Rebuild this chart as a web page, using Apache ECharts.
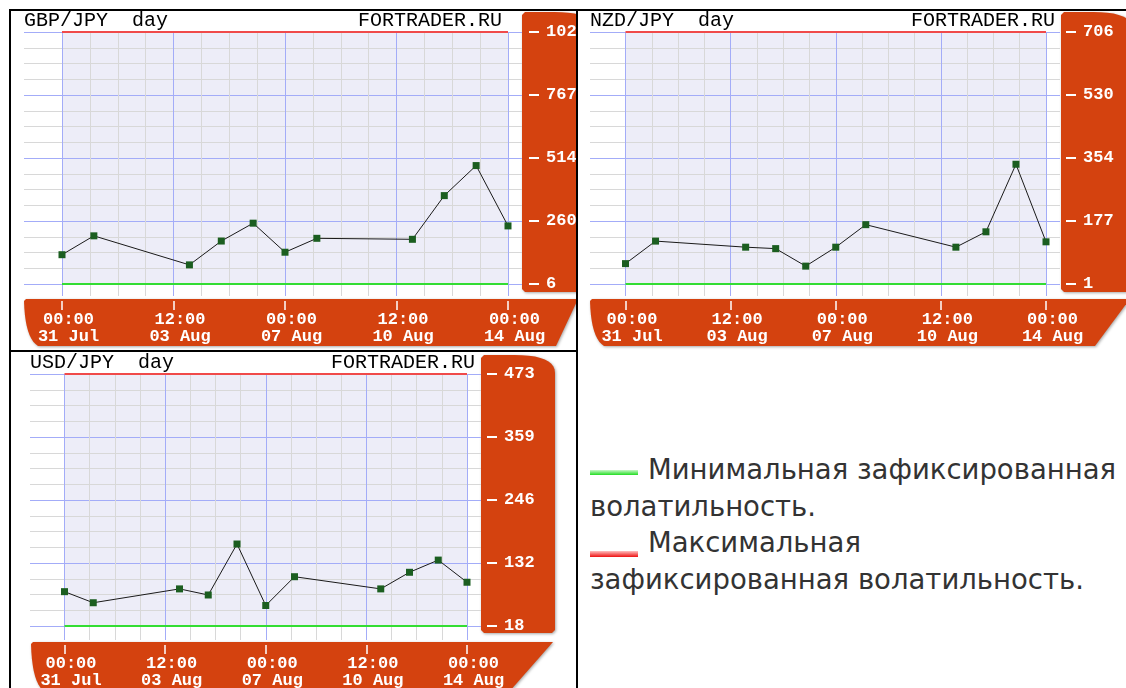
<!DOCTYPE html>
<html>
<head>
<meta charset="utf-8">
<script src="https://cdn.jsdelivr.net/npm/echarts@6/dist/echarts.min.js"></script>
<style>
  body { margin: 0; width: 1126px; height: 688px; background: #fff; position: relative; overflow: hidden; }
  .cell { position: absolute; overflow: hidden; }
  .rule { position: absolute; background: #000; z-index: 5; }
  .legend-text { position: absolute; font-family: "DejaVu Sans", sans-serif; font-size: 27.5px; line-height: 30px; color: #333; white-space: nowrap; }
  .swatch { position: absolute; width: 48px; }
</style>
</head>
<body>
<div id="gbp" class="cell" style="left:10px;top:10px;width:567px;height:340px"></div>
<div id="nzd" class="cell" style="left:578px;top:10px;width:548px;height:340px"></div>
<div id="usd" class="cell" style="left:10px;top:352px;width:567px;height:336px"></div>

<div class="rule" style="left:9px;top:9px;width:1117px;height:2px"></div>
<div class="rule" style="left:9px;top:9px;width:2px;height:679px"></div>
<div class="rule" style="left:576px;top:9px;width:2px;height:679px"></div>
<div class="rule" style="left:9px;top:350px;width:568px;height:2px"></div>

<div class="swatch" style="left:590px;top:470px;height:5px;background:linear-gradient(#c8f8c8,#22dd22)"></div>
<div class="legend-text" style="left:648px;top:454px">Минимальная зафиксированная</div>
<div class="legend-text" style="left:590px;top:491px">волатильность.</div>
<div class="swatch" style="left:590px;top:551px;height:6px;background:linear-gradient(#ffc0c0,#ee1111)"></div>
<div class="legend-text" style="left:648px;top:527px">Максимальная</div>
<div class="legend-text" style="left:590px;top:564px">зафиксированная волатильность.</div>

<script>
// trading days shown on every chart
const dates = ["2014-07-31", "2014-08-01", "2014-08-04", "2014-08-05", "2014-08-06", "2014-08-07",
  "2014-08-08", "2014-08-11", "2014-08-12", "2014-08-13", "2014-08-14"];
const xRange = ["2014-07-31", "2014-08-14"];
const xTickLabels = ["00:00\n31 Jul", "12:00\n03 Aug", "00:00\n07 Aug", "12:00\n10 Aug", "00:00\n14 Aug"];

const gbpValues = [124, 200, 83, 179, 251, 134, 190, 186, 362, 483, 240];
const gbpTicks = [6, 260, 514, 767, 1021];

const nzdValues = [58, 121, 104, 100, 51, 104, 167, 104, 147, 336, 119];
const nzdTicks = [1, 177, 354, 530, 706];

const usdValues = [80, 60, 85, 74, 166, 55, 107, 85, 115, 137, 97];
const usdTicks = [18, 132, 246, 359, 473];

const colors = {
  orange: "#d4420f",
  lavender: "#ededf8",
  major: "#a3acf8",
  minor: "#d8d8d8",
  max: "#f04a4a",
  min: "#33dd33",
  marker: "#1b5e20",
  line: "#1a1a1a",
};
const clear = "rgba(0,0,0,0)";
const monoFont = '"Liberation Mono", "DejaVu Sans Mono", monospace';
// 4 minor steps between each labelled tick
const gridSteps = Array.from({ length: 17 }, (_, i) => String(i));

function toTime(s) {
  return +new Date(s + "T00:00:00");
}

function quad(p0, c, p1, n = 10) {
  const pts = [];
  for (let i = 0; i <= n; i++) {
    const t = i / n, u = 1 - t;
    pts.push([u * u * p0[0] + 2 * u * t * c[0] + t * t * p1[0], u * u * p0[1] + 2 * u * t * c[1] + t * t * p1[1]]);
  }
  return pts;
}

function sidePanel([x, y, w, h]) {
  return [
    [x, y + 3], [x + 3, y],
    ...quad([x + w * 0.45, y], [x + w, y], [x + w, y + 18]),
    [x + w, y + h - 3], [x + w - 3, y + h], [x + 3, y + h], [x, y + h - 3],
  ];
}

function bottomBar(b) {
  return [
    [b.left, b.top + 2], [b.left + 2, b.top],
    [b.topRight, b.top], [b.bottomRight, b.bottom],
    ...quad([b.left + 14, b.bottom], [b.left + 1, b.bottom - 8], [b.left, b.top + 2]),
  ];
}

function lines(palette, width) {
  return { show: true, interval: 0, lineStyle: { color: palette, width } };
}

function stepAxis(gridIndex, extra) {
  return {
    gridIndex,
    type: "category",
    data: gridSteps,
    boundaryGap: false,
    z: 1,
    axisLine: { show: false },
    axisTick: { show: false },
    axisLabel: { show: false },
    ...extra,
  };
}

function buildChart(id, title, values, ticks, box) {
  const chart = echarts.init(document.getElementById(id), null, { renderer: "canvas" });
  const [pl, pt, pw, ph] = box.plot;
  const labelStyle = { show: true, color: "#fff", fontFamily: monoFont, fontSize: 17, fontWeight: "bold" };
  const gridPalette = [colors.major, colors.minor, colors.minor, colors.minor];
  const tickPalette = ["#fff", clear, clear, clear];
  const dashLeft = box.hRight + box.tickOffset;
  const tickTop = box.vBottom + 5;
  const free = { outerBoundsMode: "none", containLabel: false };

  chart.setOption({
    animation: false,
    grid: [
      { ...free, left: pl, top: pt, width: pw, height: ph, show: true, backgroundColor: colors.lavender, borderWidth: 0 },
      { ...free, left: box.hLeft, top: pt, width: box.hRight - box.hLeft, height: ph },
      { ...free, left: pl, top: pt, width: pw, height: box.vBottom - pt },
      { ...free, left: dashLeft, top: pt, width: 10, height: ph },
      { ...free, left: pl, top: tickTop, width: pw, height: 9 },
    ],
    xAxis: [
      { gridIndex: 0, type: "time", min: toTime(xRange[0]), max: toTime(xRange[1]), show: false },
      { gridIndex: 1, type: "value", show: false },
      stepAxis(2, { splitLine: lines(gridPalette, 1) }),
      { gridIndex: 3, type: "value", show: false },
      stepAxis(4, {
        position: "bottom",
        splitLine: lines(tickPalette, 1.5),
        axisLabel: { ...labelStyle, interval: 3, lineHeight: 17, margin: 1, padding: [0, 0, 0, 13],
          formatter: (v, i) => xTickLabels[i / 4] || "" },
      }),
    ],
    yAxis: [
      { gridIndex: 0, type: "value", min: ticks[0], max: ticks[ticks.length - 1], show: false },
      stepAxis(1, { splitLine: lines(gridPalette, 1) }),
      { gridIndex: 2, type: "value", show: false },
      stepAxis(3, {
        position: "right",
        splitLine: lines(tickPalette, 2),
        axisLabel: { ...labelStyle, interval: 3, margin: 7, align: "left",
          formatter: (v, i) => (i % 4 === 0 ? String(ticks[i / 4]) : "") },
      }),
      { gridIndex: 4, type: "value", show: false },
    ],
    graphic: [
      { type: "polygon", z: -1, silent: true, shape: { points: sidePanel(box.panel) },
        style: { fill: colors.orange, shadowBlur: 3, shadowColor: "rgba(0,0,0,0.35)", shadowOffsetX: 1, shadowOffsetY: 1 } },
      { type: "polygon", z: -1, silent: true, shape: { points: bottomBar(box.bar) },
        style: { fill: colors.orange, shadowBlur: 3, shadowColor: "rgba(0,0,0,0.35)", shadowOffsetX: 1, shadowOffsetY: 1 } },
      { type: "text", z: 5, style: { text: title, x: box.titleX, y: box.titleY, fill: "#000", font: '20px "Liberation Mono"', textVerticalAlign: "middle" } },
      { type: "text", z: 5, style: { text: "FORTRADER.RU", x: box.brandX, y: box.titleY, fill: "#000", font: '20px "Liberation Mono"', textAlign: "right", textVerticalAlign: "middle" } },
    ],
    series: [
      {
        type: "line",
        xAxisIndex: 0,
        yAxisIndex: 0,
        data: dates.map((d, i) => [toTime(d), values[i]]),
        clip: false,
        symbol: "rect",
        symbolSize: 7,
        itemStyle: { color: colors.marker },
        lineStyle: { color: colors.line, width: 1 },
        markLine: {
          silent: true,
          symbol: "none",
          label: { show: false },
          data: [
            { yAxis: ticks[ticks.length - 1], lineStyle: { color: colors.max, width: 2, type: "solid" } },
            { yAxis: ticks[0], lineStyle: { color: colors.min, width: 2, type: "solid" } },
          ],
        },
      },
    ],
  });
  return chart;
}

buildChart("gbp", "GBP/JPY  day", gbpValues, gbpTicks, {
  plot: [52, 22, 446, 252], hLeft: 14, hRight: 512, vBottom: 286, tickOffset: 7,
  panel: [512, 2, 72, 280], bar: { top: 289, bottom: 336, left: 14, topRight: 568, bottomRight: 546 },
  titleX: 14, titleY: 11, brandX: 492,
});
buildChart("nzd", "NZD/JPY  day", nzdValues, nzdTicks, {
  plot: [47.5, 22, 420.5, 252], hLeft: 12, hRight: 482, vBottom: 286, tickOffset: 6,
  panel: [483, 2, 72, 280], bar: { top: 289, bottom: 336, left: 12, topRight: 552, bottomRight: 517 },
  titleX: 12, titleY: 11, brandX: 477,
});
buildChart("usd", "USD/JPY  day", usdValues, usdTicks, {
  plot: [54.5, 22, 402.5, 252], hLeft: 20, hRight: 471, vBottom: 288, tickOffset: 6,
  panel: [471, 3, 74, 278], bar: { top: 290, bottom: 340, left: 21, topRight: 543, bottomRight: 499 },
  titleX: 20, titleY: 11, brandX: 465,
});
</script>
</body>
</html>
